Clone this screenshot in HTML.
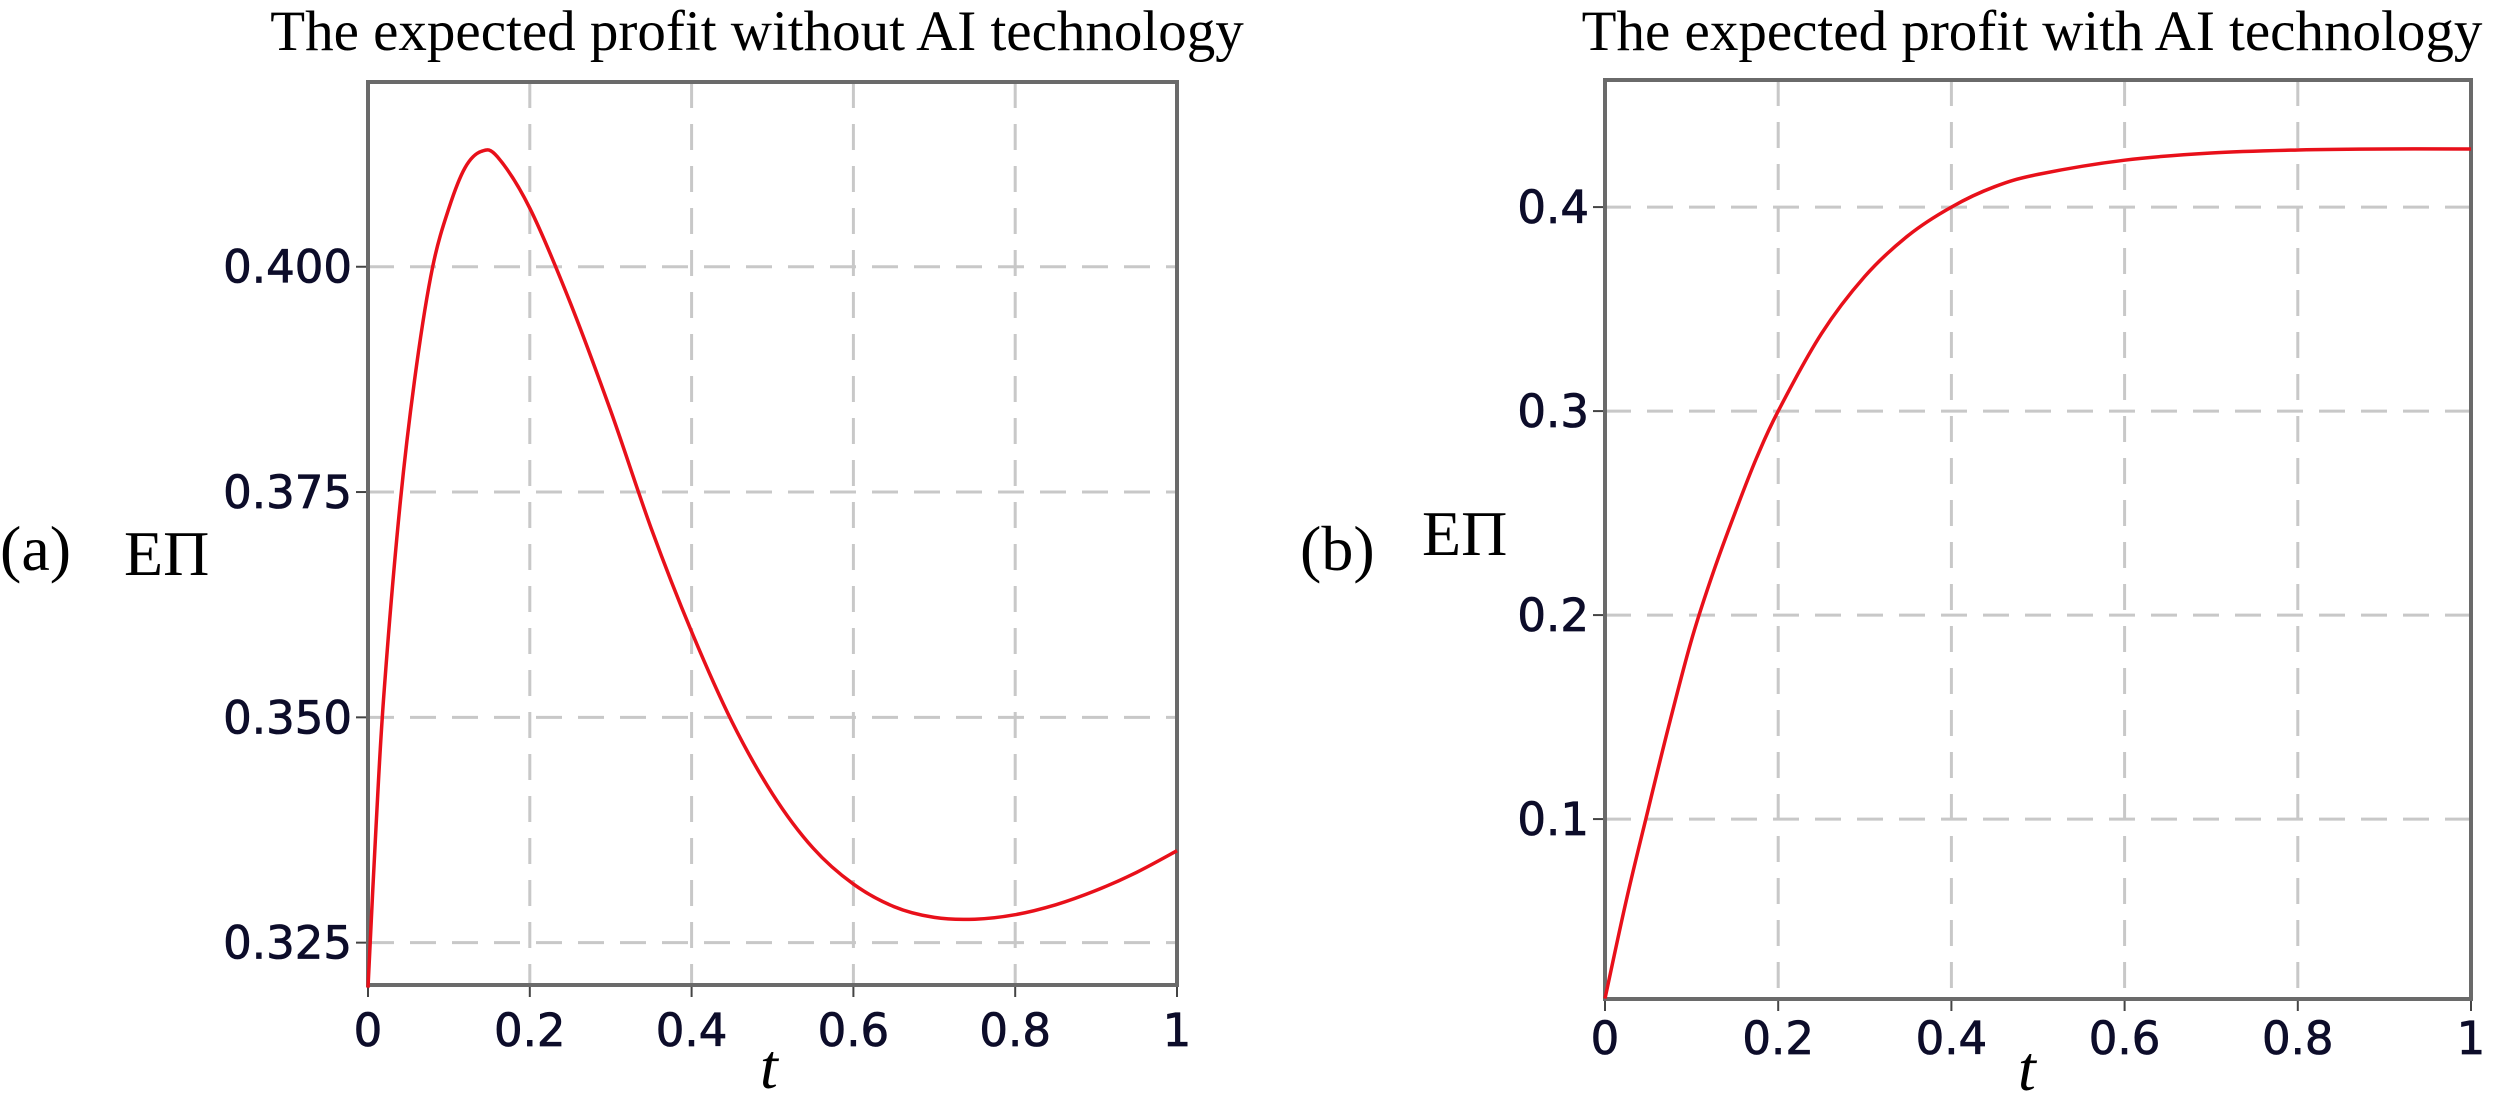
<!DOCTYPE html>
<html><head><meta charset="utf-8"><style>
html,body{margin:0;padding:0;background:#fff;}
svg{display:block;}
.tt{font-family:"Liberation Serif",serif;font-size:57px;fill:#000;}
.tk{font-family:"DejaVu Sans","Liberation Sans",sans-serif;font-size:45px;fill:#0d0d2a;stroke:#0d0d2a;stroke-width:0.8px;}
.lb{font-family:"Liberation Serif",serif;font-size:64px;fill:#000;}
</style></head><body>
<svg id="chart" width="2500" height="1098" xmlns="http://www.w3.org/2000/svg">
<text class="tt" x="757" y="50" text-anchor="middle">The expected profit without AI technology</text>
<text class="tt" x="2032" y="50" text-anchor="middle">The expected profit with AI technology</text>
<text class="lb" x="0" y="570">(a)</text>
<text class="lb" x="124" y="575">EΠ</text>
<text class="lb" x="1300" y="570">(b)</text>
<text class="lb" x="1422" y="555">EΠ</text>
<text class="lb" x="760" y="1088" font-style="italic">t</text>
<text class="lb" x="2018" y="1090" font-style="italic">t</text>
<g id="pa"></g><g id="pb"></g>
</svg>
<script>
const tA=[0,0.01,0.02,0.04,0.06,0.08,0.1,0.12,0.14,0.16,0.2,0.25,0.3,0.35,0.4,0.45,0.5,0.55,0.6,0.65,0.7,0.75,0.8,0.85,0.9,0.95,1];
const vA=[0.320,0.338,0.353,0.374,0.389,0.400,0.4065,0.4110,0.4128,0.4122,0.4065,0.396,0.384,0.371,0.3595,0.3495,0.3415,0.3355,0.3315,0.3290,0.3278,0.3276,0.3281,0.3292,0.3308,0.3328,0.3352];
const yTicksA=[0.400,0.375,0.350,0.325];
const yLabelsA=["0.400","0.375","0.350","0.325"];
const tB=[0,0.025,0.05,0.075,0.1,0.125,0.15,0.175,0.2,0.25,0.3,0.35,0.4,0.45,0.5,0.6,0.7,0.8,0.9,1];
const vB=[0.012,0.061,0.105,0.148,0.188,0.221,0.250,0.277,0.300,0.338,0.366,0.386,0.400,0.410,0.416,0.423,0.4265,0.428,0.4285,0.4285];
const yTicksB=[0.4,0.3,0.2,0.1];
const yLabelsB=["0.4","0.3","0.2","0.1"];
const xTicks=[0,0.2,0.4,0.6,0.8,1];
const xLabels=["0","0.2","0.4","0.6","0.8","1"];
const NS="http://www.w3.org/2000/svg";
function mk(tag,attrs,parent){const e=document.createElementNS(NS,tag);for(const k in attrs)e.setAttribute(k,attrs[k]);parent.appendChild(e);return e;}
function smooth(P){
  let d='M'+P[0][0].toFixed(1)+','+P[0][1].toFixed(1);
  for(let i=0;i<P.length-1;i++){
    const p0=P[Math.max(i-1,0)],p1=P[i],p2=P[i+1],p3=P[Math.min(i+2,P.length-1)];
    const c1x=p1[0]+(p2[0]-p0[0])/6,c1y=p1[1]+(p2[1]-p0[1])/6;
    const c2x=p2[0]-(p3[0]-p1[0])/6,c2y=p2[1]-(p3[1]-p1[1])/6;
    d+='C'+c1x.toFixed(1)+','+c1y.toFixed(1)+' '+c2x.toFixed(1)+','+c2y.toFixed(1)+' '+p2[0].toFixed(1)+','+p2[1].toFixed(1);
  }
  return d;
}
function panel(g,id,box,ymin,ymax,ts,vs,yt,yl,xlabY){
  const xs=t=>box.x0+(t)*(box.x1-box.x0);
  const ys=v=>box.yb-(v-ymin)/(ymax-ymin)*(box.yb-box.yt);
  xTicks.forEach((t,i)=>{
    if(t>0&&t<1){const l=mk('line',{x1:xs(t),x2:xs(t),y1:box.yt,y2:box.yb,stroke:'#c8c8c8','stroke-width':3,'stroke-dasharray':'26,16'},g);
    
    }
    const tk=mk('line',{x1:xs(t),x2:xs(t),y1:box.yb,y2:box.yb+12,stroke:'#444','stroke-width':2},g);
    
    
    const tx=mk('text',{x:xs(t),y:xlabY,'text-anchor':'middle',class:'tk'},g);tx.textContent=xLabels[i];
    
    
  });
  yt.forEach((v,i)=>{
    const l=mk('line',{x1:box.x0,x2:box.x1,y1:ys(v),y2:ys(v),stroke:'#c8c8c8','stroke-width':3,'stroke-dasharray':'26,16'},g);
    
    
    const tk=mk('line',{x1:box.x0-12,x2:box.x0,y1:ys(v),y2:ys(v),stroke:'#444','stroke-width':2},g);
    
    
    const tx=mk('text',{x:box.x0-16,y:ys(v)+16,'text-anchor':'end',class:'tk'},g);tx.textContent=yl[i];
    
    
  });
  const fr=mk('rect',{x:box.x0,y:box.yt,width:box.x1-box.x0,height:box.yb-box.yt,fill:'none',stroke:'#6a6a6a','stroke-width':4},g);
  
  
  const P=ts.map((t,i)=>[xs(t),ys(vs[i])]);
  const p=mk('path',{d:smooth(P),fill:'none',stroke:'#e8101a','stroke-width':3.5,'stroke-linejoin':'round'},g);
  
  
}
panel(document.getElementById('pa'),'a',{x0:368,x1:1177,yt:82,yb:985},0.3203,0.4205,tA,vA,yTicksA,yLabelsA,1046);
panel(document.getElementById('pb'),'b',{x0:1605,x1:2471,yt:80,yb:999},0.0118,0.4623,tB,vB,yTicksB,yLabelsB,1054);
</script>
</body></html>
